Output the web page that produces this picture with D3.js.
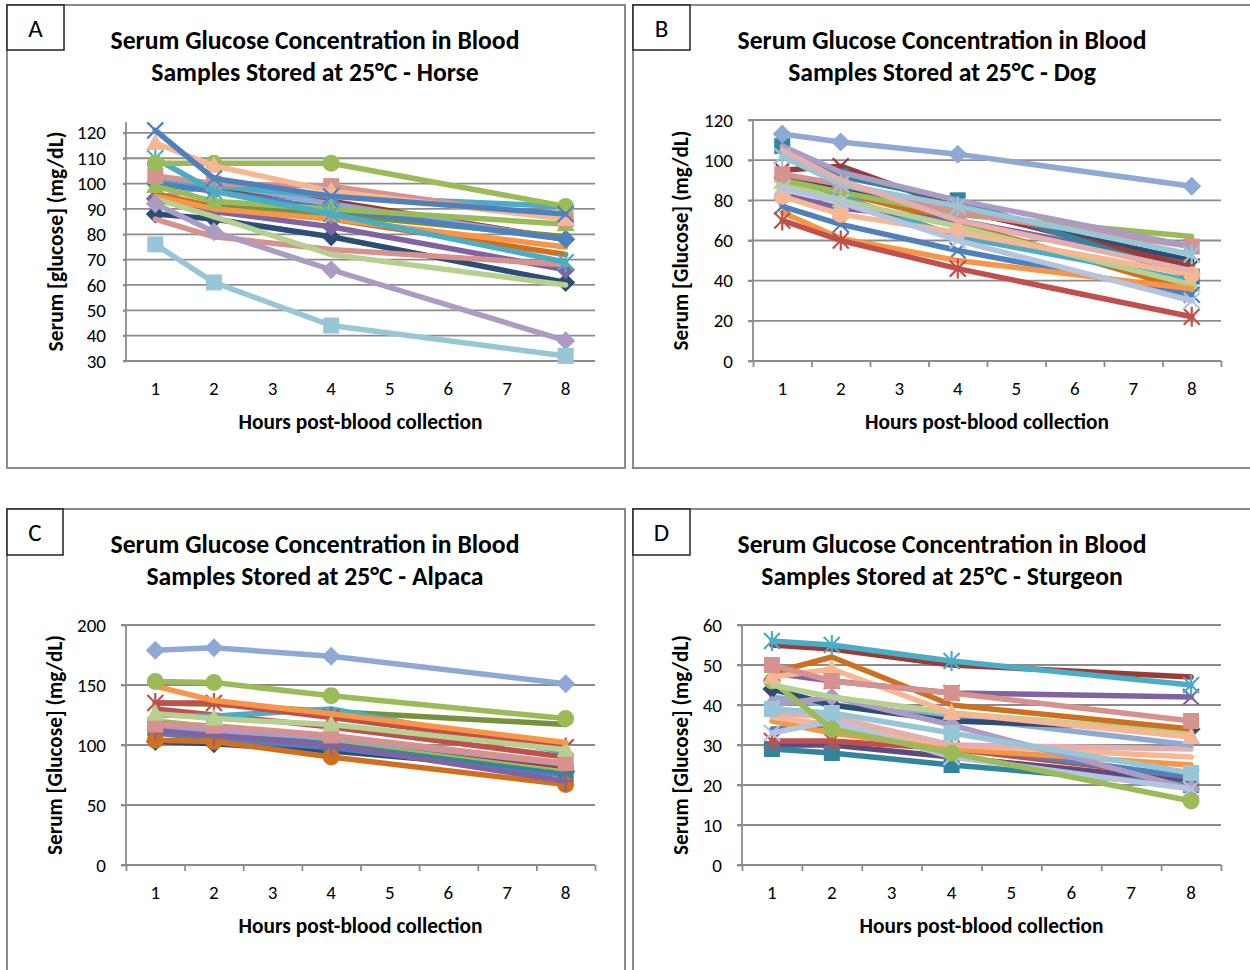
<!DOCTYPE html>
<html>
<head>
<meta charset="utf-8">
<script src="https://cdn.jsdelivr.net/npm/d3@7"></script>
<style>
  body { margin: 0; background: #fff; }
  svg { display: block; font-family: Carlito, "Liberation Sans", Arial, sans-serif; }
</style>
</head>
<body>
<svg id="chart" width="1250" height="970"></svg>
<script>
// sampling times (hours) and axis categories
const hours = [1, 2, 4, 8];
const xTicks = [1, 2, 3, 4, 5, 6, 7, 8];

// Office 2007 palette used by the series
const pal = {
  blue: '#4F81BD', red: '#C0504D', green: '#9BBB59', purple: '#8064A2', aqua: '#4BACC6', orange: '#F79646',
  dkblue: '#2C4D75', dkred: '#9B3B38', dkgreen: '#76923C', dkpurple: '#5F4A7F', dkaqua: '#31859C', dkorange: '#D0701E',
  ltblue: '#8EA9D3', ltred: '#D7918E', ltgreen: '#B8D08F', ltpurple: '#AC9CC4', ltaqua: '#97C7D7', ltorange: '#F6B792',
  pink: '#E2B0AE', ltsteel: '#B6C3DE'
};

// ---- Horse ----
const horseValues = [
  [101, 98, 93, 78],
  [94, 100, 92, 78],
  [88, 86, 79, 61],
  [96, 91, 86, 72],
  [93, 91, 88, 79],
  [94, 89, 83, 66],
  [95, 90, 86, 75],
  [101, 99, 95, 91],
  [100, 97, 90, 78],
  [99, 93, 90, 84],
  [103, 100, 99, 86],
  [86, 79, 74, 68],
  [94, 87, 72, 60],
  [92, 81, 66, 38],
  [76, 61, 44, 32],
  [110, 97, 88, 69],
  [108, 108, 108, 91],
  [116, 107, 97, 86],
  [121, 102, 95, 88]
];
const horseColors = ['dkred', 'ltblue', 'dkblue', 'dkorange', 'dkgreen', 'purple', 'orange', 'aqua', 'blue',
  'green', 'ltred', 'ltred', 'ltgreen', 'ltpurple', 'ltaqua', 'aqua', 'green', 'ltorange', 'blue'];
const horseMarkers = ['none', 'diamond', 'diamond', 'none', 'none', 'diamond', 'none', 'none', 'diamond',
  'triangle', 'square', 'none', 'none', 'diamond', 'square', 'star', 'circle', 'triangle', 'x'];

// ---- Dog ----
const dogValues = [
  [92, 85, 75, 50],
  [90, 84, 69, 35],
  [89, 82, 62, 40],
  [83, 76, 70, 48],
  [95, 97, 76, 47],
  [107, 92, 80, 42],
  [89, 80, 67, 38],
  [90, 84, 73, 62],
  [77, 68, 55, 33],
  [74, 61, 50, 36],
  [70, 60, 46, 22],
  [93, 88, 74, 57],
  [107, 94, 80, 57],
  [102, 88, 77, 53],
  [82, 73, 64, 43],
  [105, 90, 70, 45],
  [86, 79, 60, 30],
  [113, 109, 103, 87]
];
const dogColors = ['dkblue', 'dkorange', 'aqua', 'purple', 'dkred', 'dkaqua', 'ltgreen', 'green', 'blue',
  'orange', 'red', 'ltred', 'ltpurple', 'ltaqua', 'ltorange', 'pink', 'ltsteel', 'ltblue'];
const dogMarkers = ['none', 'none', 'none', 'none', 'x', 'square', 'triangle', 'none', 'x',
  'none', 'star', 'square', 'none', 'star', 'circle', 'none', 'x', 'diamond'];

// ---- Alpaca ----
const alpacaValues = [
  [103, 101, 95, 78],
  [110, 105, 98, 75],
  [114, 112, 101, 77],
  [120, 115, 105, 80],
  [118, 113, 107, 82],
  [130, 125, 115, 90],
  [115, 112, 106, 84],
  [135, 134, 128, 117],
  [104, 103, 90, 67],
  [125, 124, 130, 94],
  [135, 135, 123, 98],
  [112, 108, 100, 70],
  [117, 116, 108, 85],
  [126, 122, 117, 96],
  [149, 137, 126, 102],
  [153, 152, 141, 122],
  [179, 181, 174, 151]
];
const alpacaColors = ['dkblue', 'blue', 'dkaqua', 'green', 'dkred', 'red', 'ltpurple', 'dkgreen', 'dkorange',
  'aqua', 'red', 'purple', 'ltred', 'ltgreen', 'orange', 'green', 'ltblue'];
const alpacaMarkers = ['diamond', 'none', 'square', 'none', 'none', 'none', 'none', 'none', 'circle',
  'none', 'star', 'plus', 'square', 'triangle', 'none', 'circle', 'diamond'];

// ---- Sturgeon ----
const sturgeonValues = [
  [30, 30, 27, 21],
  [29, 28, 25, 20],
  [31, 31, 29, 22],
  [34, 35, 30, 22],
  [36, 33, 29, 25],
  [37, 35, 30, 27],
  [38, 37, 30, 29],
  [42, 40, 37, 30],
  [44, 40, 36, 34],
  [40, 42, 35, 19],
  [33, 36, 27, 19],
  [39, 38, 33, 23],
  [46, 34, 28, 16],
  [45, 42, 38, 33],
  [48, 46, 43, 42],
  [48, 52, 40, 34],
  [47, 49, 38, 32],
  [50, 46, 43, 36],
  [55, 54, 50, 47],
  [56, 55, 51, 45]
];
const sturgeonColors = ['dkpurple', 'dkaqua', 'red', 'blue', 'orange', 'ltorange', 'pink', 'ltblue', 'dkblue',
  'ltpurple', 'ltsteel', 'ltaqua', 'green', 'ltgreen', 'purple', 'dkorange', 'ltorange', 'ltred', 'dkred', 'aqua'];
const sturgeonMarkers = ['none', 'square', 'star', 'none', 'none', 'none', 'none', 'none', 'diamond',
  'diamond', 'x', 'square', 'circle', 'none', 'x', 'none', 'triangle', 'square', 'none', 'star'];

const svg = d3.select('#chart');
const grid = '#8C8C8C';

const panels = [
  { letter: 'A', animal: 'Horse', yLabel: 'Serum [glucose] (mg/dL)', values: horseValues, colors: horseColors, markers: horseMarkers,
    frame: [7, 5, 618, 463], box: [7, 5, 57, 45], plot: [126, 122, 595, 361], yDomain: [30, 124.3], yTicks: d3.range(30, 121, 10), xTickMarks: false },
  { letter: 'B', animal: 'Dog', yLabel: 'Serum [Glucose] (mg/dL)', values: dogValues, colors: dogColors, markers: dogMarkers,
    frame: [633, 5, 630, 463], box: [633, 5, 57, 45], plot: [753, 120, 1221, 361], yDomain: [0, 120], yTicks: d3.range(0, 121, 20), xTickMarks: true },
  { letter: 'C', animal: 'Alpaca', yLabel: 'Serum [Glucose] (mg/dL)', values: alpacaValues, colors: alpacaColors, markers: alpacaMarkers,
    frame: [7, 509, 618, 470], box: [7, 509, 56, 46], plot: [126, 625, 595, 865], yDomain: [0, 200], yTicks: d3.range(0, 201, 50), xTickMarks: true },
  { letter: 'D', animal: 'Sturgeon', yLabel: 'Serum [Glucose] (mg/dL)', values: sturgeonValues, colors: sturgeonColors, markers: sturgeonMarkers,
    frame: [633, 509, 630, 470], box: [633, 509, 57, 46], plot: [742, 625, 1221, 865], yDomain: [0, 60], yTicks: d3.range(0, 61, 10), xTickMarks: true }
];

// scale a text node's font so it fills a target width
function fitWidth(sel, target) {
  const node = sel.node();
  const w = node.getComputedTextLength();
  const fs = parseFloat(sel.attr('font-size'));
  sel.attr('font-size', (fs * target / w).toFixed(2));
}

function drawMarker(g, type, x, y, color) {
  const s = 8;
  if (type === 'none') return;
  if (type === 'diamond') {
    g.append('path').attr('d', `M${x},${y - 9.5}L${x + 9.5},${y}L${x},${y + 9.5}L${x - 9.5},${y}Z`).attr('fill', color);
  } else if (type === 'square') {
    g.append('rect').attr('x', x - s).attr('y', y - s).attr('width', 2 * s).attr('height', 2 * s).attr('fill', color);
  } else if (type === 'triangle') {
    g.append('path').attr('d', `M${x},${y - 10}L${x + 9},${y + 7}L${x - 9},${y + 7}Z`).attr('fill', color);
  } else if (type === 'circle') {
    g.append('circle').attr('cx', x).attr('cy', y).attr('r', 8.5).attr('fill', color);
  } else if (type === 'x' || type === 'star' || type === 'plus') {
    let d = '';
    if (type !== 'plus') d += `M${x - s},${y - s}L${x + s},${y + s}M${x - s},${y + s}L${x + s},${y - s}`;
    if (type === 'star' || type === 'plus') d += `M${x},${y - s - 2}L${x},${y + s + 2}`;
    if (type === 'plus') d += `M${x - s},${y}L${x + s},${y}`;
    g.append('path').attr('d', d).attr('stroke', color).attr('stroke-width', 2.2).attr('fill', 'none');
  }
}

panels.forEach(p => {
  const g = svg.append('g');
  const [fx, fy, fw, fh] = p.frame;
  g.append('rect').attr('x', fx).attr('y', fy).attr('width', fw).attr('height', fh)
    .attr('fill', '#fff').attr('stroke', '#8A8A8A').attr('stroke-width', 2);

  // letter box
  const [bx, by, bw, bh] = p.box;
  g.append('rect').attr('x', bx).attr('y', by).attr('width', bw).attr('height', bh)
    .attr('fill', '#fff').attr('stroke', '#222').attr('stroke-width', 1.5);
  g.append('text').attr('x', bx + bw / 2).attr('y', by + bh / 2 + 9).attr('text-anchor', 'middle')
    .attr('font-size', 25).attr('fill', '#000').text(p.letter);

  const [x0, y0, x1, y1] = p.plot;
  const x = d3.scaleLinear().domain([0.5, 8.5]).range([x0, x1]);
  const y = d3.scaleLinear().domain(p.yDomain).range([y1, y0]);

  // title
  const tx = fx + 308 + (fx > 300 ? 1 : 0);
  const t1 = g.append('text').attr('x', tx).attr('y', fy + 44).attr('text-anchor', 'middle')
    .attr('font-size', 20).attr('font-weight', 'bold').attr('fill', '#000').text('Serum Glucose Concentration in Blood');
  fitWidth(t1, 409);
  g.append('text').attr('x', tx).attr('y', fy + 76).attr('text-anchor', 'middle')
    .attr('font-size', t1.attr('font-size')).attr('font-weight', 'bold').attr('fill', '#000')
    .text(`Samples Stored at 25°C - ${p.animal}`);

  // gridlines
  const tk = p.xTickMarks ? 5 : 3;
  g.append('g').selectAll('line').data(p.yTicks.filter(v => v !== p.yDomain[0])).join('line')
    .attr('x1', x0 - tk).attr('x2', x1).attr('y1', d => y(d)).attr('y2', d => y(d))
    .attr('stroke', grid).attr('stroke-width', 1.8);

  // axes
  const yAxis = d3.axisLeft(y).tickValues(p.yTicks).tickSize(tk).tickPadding(20 - tk);
  const ya = g.append('g').attr('transform', `translate(${x0},0)`).call(yAxis);
  ya.select('.domain').attr('stroke', grid).attr('stroke-width', 1.8).attr('d', `M-${tk},${y1}H0V${y0}`);
  ya.selectAll('.tick line').attr('stroke', grid).attr('stroke-width', 1.8);
  ya.selectAll('.tick text').attr('font-size', 19).attr('fill', '#000').attr('font-family', 'Carlito, "Liberation Sans", Arial, sans-serif');

  const xAxis = d3.axisBottom(x).tickValues(d3.range(0.5, 8.6, 1)).tickSize(p.xTickMarks ? 6 : 0).tickFormat('');
  const xa = g.append('g').attr('transform', `translate(0,${y1})`).call(xAxis);
  xa.select('.domain').attr('stroke', grid).attr('stroke-width', 1.8).attr('d', `M${x0},0H${x1}`);
  xa.selectAll('.tick line').attr('stroke', grid).attr('stroke-width', 1.8);
  g.append('g').selectAll('text').data(xTicks).join('text')
    .attr('x', d => x(d)).attr('y', y1 + 34).attr('text-anchor', 'middle')
    .attr('font-size', 19).attr('fill', '#000').text(d => d);

  // axis titles
  const xt = g.append('text').attr('x', (x0 + x1) / 2).attr('y', y1 + 68).attr('text-anchor', 'middle')
    .attr('font-size', 17).attr('font-weight', 'bold').attr('fill', '#000').text('Hours post-blood collection');
  fitWidth(xt, 244);
  const yt = g.append('text').attr('transform', `translate(${fx + 48},${(y0 + y1) / 2}) rotate(-90)`)
    .attr('text-anchor', 'middle').attr('dy', '0.35em')
    .attr('font-size', 17).attr('font-weight', 'bold').attr('fill', '#000').text(p.yLabel);
  fitWidth(yt, 220);

  // series
  const line = d3.line().x((d, i) => x(hours[i])).y(d => y(d));
  const sg = g.append('g');
  p.values.forEach((vals, k) => {
    const color = pal[p.colors[k]];
    const s = sg.append('g');
    s.append('path').attr('d', line(vals)).attr('fill', 'none').attr('stroke', color)
      .attr('stroke-width', 5.5).attr('stroke-linejoin', 'round').attr('stroke-linecap', 'round');
    vals.forEach((v, i) => drawMarker(s, p.markers[k], x(hours[i]), y(v), color));
  });
});
</script>
</body>
</html>
